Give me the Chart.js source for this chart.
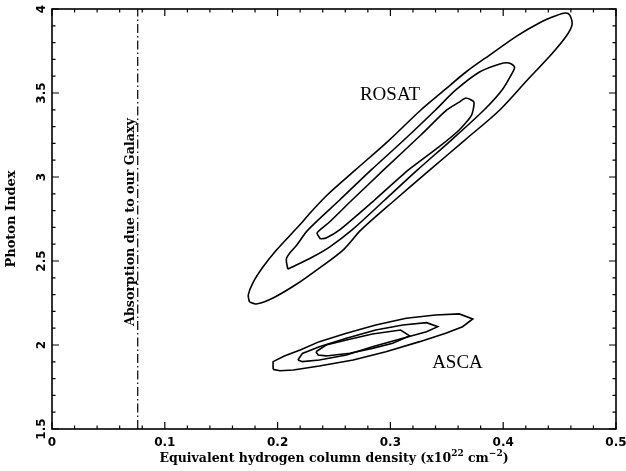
<!DOCTYPE html>
<html>
<head>
<meta charset="utf-8">
<script src="https://cdn.jsdelivr.net/npm/chart.js@4.4.1/dist/chart.umd.min.js"></script>
<style>
  html, body { margin: 0; padding: 0; background: #fff; }
  #wrap { width: 626px; height: 471px; }
</style>
</head>
<body>
<div id="wrap"><canvas id="chartCanvas" width="626" height="471"></canvas></div>
<script>
// --- data: [NH (1e22 cm^-2), photon index] ---
const rosatOuter = [
  [0.175, 2.256], [0.174, 2.298], [0.178, 2.369], [0.187, 2.464], [0.199, 2.565],
  [0.213, 2.667], [0.222, 2.732], [0.228, 2.780], [0.244, 2.893], [0.269, 3.042],
  [0.299, 3.220], [0.327, 3.399], [0.348, 3.518], [0.367, 3.625], [0.388, 3.726],
  [0.412, 3.839], [0.432, 3.917], [0.446, 3.958], [0.455, 3.976], [0.459, 3.964],
  [0.461, 3.905], [0.456, 3.839], [0.443, 3.732], [0.423, 3.589], [0.397, 3.399],
  [0.366, 3.220], [0.335, 3.042], [0.304, 2.863], [0.274, 2.685], [0.258, 2.565],
  [0.237, 2.458], [0.217, 2.363], [0.196, 2.280], [0.181, 2.244], [0.175, 2.256]
];
const rosatMiddle = [
  [0.209, 2.452], [0.208, 2.518], [0.217, 2.595], [0.227, 2.685], [0.255, 2.863],
  [0.283, 3.042], [0.312, 3.220], [0.340, 3.399], [0.358, 3.518], [0.379, 3.625],
  [0.397, 3.673], [0.405, 3.679], [0.410, 3.655], [0.408, 3.619], [0.399, 3.518],
  [0.383, 3.399], [0.354, 3.220], [0.324, 3.042], [0.295, 2.863], [0.266, 2.685],
  [0.246, 2.583], [0.231, 2.524], [0.213, 2.464], [0.209, 2.452]
];
const rosatInner = [
  [0.238, 2.631], [0.235, 2.667], [0.246, 2.732], [0.266, 2.863], [0.294, 3.042],
  [0.327, 3.250], [0.350, 3.399], [0.361, 3.446], [0.367, 3.470], [0.374, 3.446],
  [0.372, 3.369], [0.361, 3.280], [0.343, 3.179], [0.316, 3.042], [0.286, 2.863],
  [0.255, 2.685], [0.243, 2.637], [0.238, 2.631]
];
const ascaOuter = [
  [0.196, 1.855], [0.196, 1.901], [0.206, 1.934], [0.220, 1.970], [0.237, 2.020],
  [0.261, 2.070], [0.287, 2.119], [0.314, 2.159], [0.340, 2.179], [0.361, 2.185],
  [0.373, 2.155], [0.364, 2.109], [0.349, 2.070], [0.326, 2.020], [0.296, 1.960],
  [0.267, 1.911], [0.237, 1.875], [0.214, 1.851], [0.202, 1.847], [0.196, 1.855]
];
const ascaMiddle = [
  [0.218, 1.911], [0.222, 1.950], [0.237, 1.990], [0.261, 2.040], [0.287, 2.089],
  [0.311, 2.119], [0.332, 2.133], [0.342, 2.109], [0.332, 2.079], [0.311, 2.040],
  [0.284, 1.990], [0.261, 1.940], [0.237, 1.911], [0.222, 1.901], [0.218, 1.911]
];
const ascaInner = [
  [0.234, 1.960], [0.243, 2.000], [0.261, 2.030], [0.284, 2.065], [0.309, 2.089],
  [0.317, 2.054], [0.302, 2.010], [0.284, 1.980], [0.264, 1.951], [0.243, 1.935],
  [0.236, 1.940], [0.234, 1.960]
];
const galacticNH = 0.076;
const galaxyLine = [[galacticNH, 1.5], [galacticNH, 4]];

// axis ranges and tick values
const xRange = [0, 0.5];
const yRange = [1.5, 4];
const yTickLabels = ["1.5", "2", "2.5", "3", "3.5", "4"];

// text labels: [text, x, y]
const rosatLabel = ["ROSAT", 0.273, 3.458];
const ascaLabel = ["ASCA", 0.337, 1.863];
const galaxyLabel = "Absorption due to our Galaxy";
const xTitle = ["Equivalent hydrogen column density (x10", "22", " cm", "\u22122", ")"];

const canvas = document.getElementById("chartCanvas");
const toPts = arr => arr.map(p => ({ x: p[0], y: p[1] }));

function contour(pts, tension) {
  return {
    data: toPts(pts),
    showLine: true,
    borderColor: "#000",
    borderWidth: 1.6,
    pointRadius: 0,
    tension: tension,
    fill: false
  };
}

// frame, inward ticks, y tick labels, x title and the text notes
const decor = {
  id: "decor",
  afterDatasetsDraw(chart) {
    const { ctx, chartArea: a, scales: { x, y } } = chart;
    ctx.save();
    ctx.strokeStyle = "#000";
    ctx.lineWidth = 1.6;
    ctx.strokeRect(a.left, a.top, a.right - a.left, a.bottom - a.top);

    ctx.lineWidth = 1.2;
    ctx.beginPath();
    for (let i = 0; i <= 25; i++) {
      const px = x.getPixelForValue(i * 0.02);
      const len = i % 5 === 0 ? 7 : 3.5;
      ctx.moveTo(px, a.bottom); ctx.lineTo(px, a.bottom - len);
      ctx.moveTo(px, a.top); ctx.lineTo(px, a.top + len);
    }
    for (let i = 0; i <= 25; i++) {
      const py = y.getPixelForValue(1.5 + i * 0.1);
      const len = i % 5 === 0 ? 7 : 3.5;
      ctx.moveTo(a.left, py); ctx.lineTo(a.left + len, py);
      ctx.moveTo(a.right, py); ctx.lineTo(a.right - len, py);
    }
    ctx.stroke();

    // rotated y tick labels
    ctx.fillStyle = "#000";
    ctx.font = "bold 12px 'DejaVu Sans'";
    ctx.textAlign = "center";
    ctx.textBaseline = "alphabetic";
    yTickLabels.forEach(t => {
      const py = y.getPixelForValue(Number(t));
      ctx.save();
      ctx.translate(a.left - 7, py);
      ctx.rotate(-Math.PI / 2);
      ctx.fillText(t, 0, 0);
      ctx.restore();
    });

    // x axis title with real superscripts
    const big = "bold 12.5px 'DejaVu Serif'";
    const small = "bold 9px 'DejaVu Serif'";
    const parts = xTitle.map((t, i) => ({ t, sup: i === 1 || i === 3 }));
    let total = 0;
    parts.forEach(p => { ctx.font = p.sup ? small : big; p.w = ctx.measureText(p.t).width; total += p.w; });
    let cx = (a.left + a.right) / 2 - total / 2;
    const base = 462;
    ctx.textAlign = "left";
    parts.forEach(p => {
      ctx.font = p.sup ? small : big;
      ctx.fillText(p.t, cx, p.sup ? base - 6 : base);
      cx += p.w;
    });

    // contour names
    ctx.font = "19px 'Liberation Serif'";
    [rosatLabel, ascaLabel].forEach(([t, vx, vy]) => {
      ctx.fillText(t, x.getPixelForValue(vx), y.getPixelForValue(vy));
    });

    // galactic absorption note
    ctx.font = "bold 12.7px 'DejaVu Serif'";
    ctx.textAlign = "center";
    ctx.save();
    ctx.translate(x.getPixelForValue(galacticNH) - 4, (a.top + a.bottom) / 2 + 3);
    ctx.rotate(-Math.PI / 2);
    ctx.fillText(galaxyLabel, 0, 0);
    ctx.restore();
    ctx.restore();
  }
};

new Chart(canvas, {
  type: "scatter",
  data: {
    datasets: [
      contour(rosatOuter, 0.3),
      contour(rosatMiddle, 0.3),
      contour(rosatInner, 0.2),
      contour(ascaOuter, 0),
      contour(ascaMiddle, 0),
      contour(ascaInner, 0),
      {
        data: toPts(galaxyLine),
        showLine: true,
        borderColor: "#000",
        borderWidth: 1.2,
        borderDash: [9, 3, 1.5, 3],
        pointRadius: 0
      }
    ]
  },
  options: {
    responsive: false,
    animation: false,
    layout: { padding: { top: 9, right: 10, left: 0, bottom: 0 } },
    plugins: { legend: { display: false }, tooltip: { enabled: false } },
    scales: {
      x: {
        type: "linear",
        min: xRange[0],
        max: xRange[1],
        grid: { display: false, drawTicks: false },
        border: { display: false },
        ticks: {
          stepSize: 0.1,
          padding: 7,
          color: "#000",
          font: { family: "DejaVu Sans", weight: "bold", size: 12 }
        },
        title: { display: false },
        afterFit: s => { s.height = 42; s.paddingLeft = 0; s.paddingRight = 0; }
      },
      y: {
        type: "linear",
        min: yRange[0],
        max: yRange[1],
        grid: { display: false, drawTicks: false },
        border: { display: false },
        ticks: { display: false, stepSize: 0.5 },
        title: {
          display: true,
          text: "Photon Index",
          color: "#000",
          padding: { top: 4, bottom: 0 },
          font: { family: "DejaVu Serif", weight: "bold", size: 13 }
        },
        afterFit: s => { s.width = 52; }
      }
    }
  },
  plugins: [decor]
});
</script>
</body>
</html>
